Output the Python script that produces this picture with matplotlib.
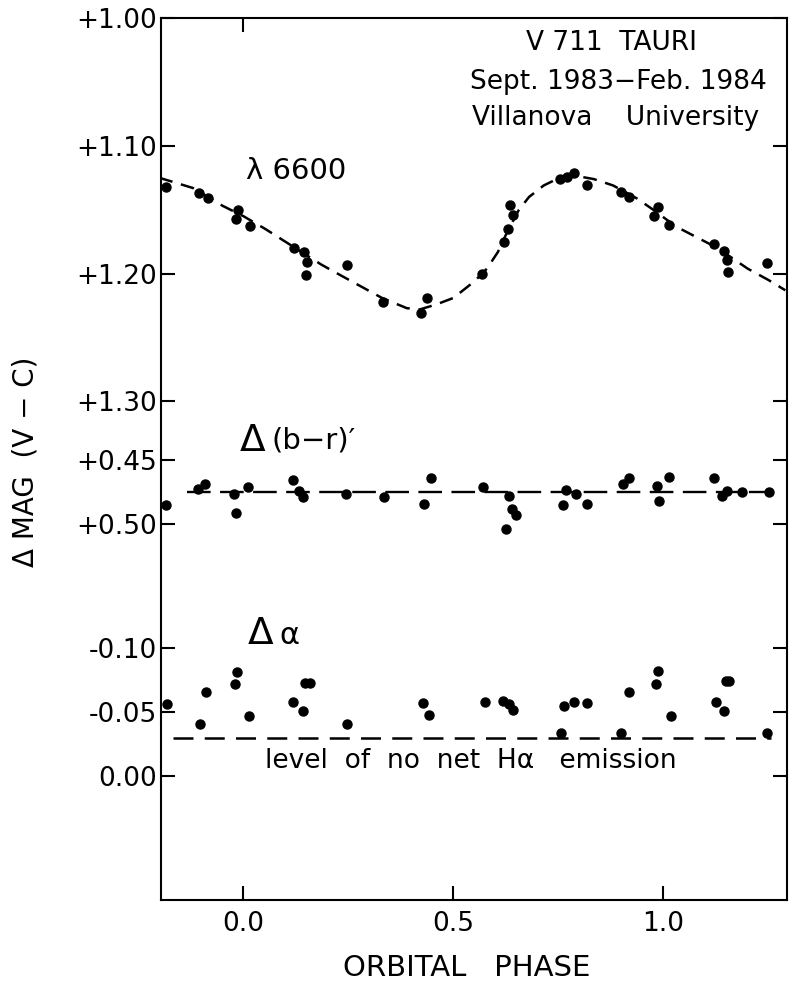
import matplotlib
matplotlib.use('Agg')
import matplotlib.pyplot as plt

W, H = 795, 984

# lambda 6600 differential magnitudes
lam_phase = [-0.183, -0.105, -0.084, -0.013, -0.018, 0.015, 0.120, 0.144, 0.151, 0.150,
             0.246, 0.332, 0.437, 0.424, 0.569, 0.621, 0.631, 0.642, 0.635, 0.753,
             0.770, 0.787, 0.817, 0.898, 0.917, 0.988, 0.977, 1.013, 1.121, 1.145,
             1.151, 1.153, 1.246]
lam_mag = [1.132, 1.137, 1.141, 1.150, 1.157, 1.163, 1.180, 1.183, 1.191, 1.201,
           1.193, 1.222, 1.219, 1.231, 1.200, 1.175, 1.165, 1.154, 1.146, 1.126,
           1.124, 1.121, 1.131, 1.136, 1.140, 1.148, 1.155, 1.162, 1.177, 1.182,
           1.189, 1.199, 1.192]

# dashed fit drawn through the lambda 6600 points
fit_phase = [-0.200, -0.120, -0.049, 0.000, 0.052, 0.100, 0.186, 0.230, 0.280, 0.330,
             0.389, 0.420, 0.460, 0.500, 0.550, 0.580, 0.606, 0.630, 0.656, 0.680,
             0.715, 0.740, 0.771, 0.800, 0.834, 0.880, 0.936, 0.980, 1.029, 1.070,
             1.123, 1.160, 1.200, 1.250, 1.290]
fit_mag = [1.125, 1.133, 1.147, 1.155, 1.165, 1.175, 1.193, 1.201, 1.210, 1.219,
           1.227, 1.228, 1.224, 1.219, 1.206, 1.196, 1.183, 1.166, 1.150, 1.140,
           1.131, 1.127, 1.124, 1.124, 1.126, 1.131, 1.141, 1.151, 1.163, 1.170,
           1.179, 1.187, 1.196, 1.205, 1.213]

# delta (b-r)'
br_phase = [-0.184, -0.108, -0.091, -0.022, -0.018, 0.012, 0.119, 0.133, 0.142, 0.244,
            0.335, 0.430, 0.446, 0.571, 0.633, 0.640, 0.649, 0.624, 0.769, 0.761,
            0.792, 0.818, 0.903, 0.918, 0.985, 0.989, 1.014, 1.121, 1.140, 1.152,
            1.188, 1.250]
br_mag = [0.4853, 0.4726, 0.4688, 0.4762, 0.4912, 0.4711, 0.4655, 0.4743, 0.4791, 0.4766,
          0.4788, 0.4842, 0.4641, 0.4712, 0.4779, 0.4881, 0.4929, 0.5037, 0.4734, 0.4852,
          0.4767, 0.4839, 0.4689, 0.4635, 0.4703, 0.4820, 0.4634, 0.4642, 0.4777, 0.4738,
          0.4748, 0.4745]
br_mean_phase = [-0.134, 1.245]
br_mean = [0.475, 0.475]

# delta alpha (H-alpha index)
ha_phase = [-0.182, -0.102, -0.088, -0.015, -0.021, 0.013, 0.119, 0.142, 0.146, 0.158,
            0.246, 0.428, 0.442, 0.574, 0.619, 0.633, 0.642, 0.755, 0.764, 0.788,
            0.818, 0.898, 0.917, 0.982, 0.987, 1.018, 1.124, 1.145, 1.148, 1.157,
            1.246]
ha_mag = [-0.056, -0.041, -0.066, -0.081, -0.072, -0.047, -0.058, -0.051, -0.073, -0.073,
          -0.041, -0.057, -0.048, -0.058, -0.059, -0.056, -0.052, -0.034, -0.055, -0.058,
          -0.057, -0.034, -0.066, -0.072, -0.082, -0.047, -0.058, -0.051, -0.074, -0.074,
          -0.034]
ha_level_phase = [-0.167, 1.255]
ha_level = [-0.030, -0.030]

# the three panels share one inverted axis, shifted by these amounts
OFF_LAM = 0.0
OFF_BR = 0.896
OFF_HA = 1.593

lam_ticks = [1.00, 1.10, 1.20, 1.30]
br_ticks = [0.45, 0.50]
ha_ticks = [-0.10, -0.05, 0.00]
ytick_labels = ['+1.00', '+1.10', '+1.20', '+1.30', '+0.45', '+0.50', '-0.10', '-0.05', '0.00']
x_ticks = [0.0, 0.5, 1.0]
x_labels = ['0.0', '0.5', '1.0']

plt.rcParams['font.family'] = ['DejaVu Sans']

fig = plt.figure(figsize=(W / 100, H / 100), dpi=100)
ax = fig.add_axes([161 / W, 1 - 900 / H, (787 - 161) / W, (900 - 18) / H])


def shift(vals, off):
    return [v + off for v in vals]


dot = dict(ls='none', marker='o', ms=6.5, color='black', zorder=3)
ax.plot(lam_phase, shift(lam_mag, OFF_LAM), **dot)
ax.plot(fit_phase, shift(fit_mag, OFF_LAM), color='black', lw=1.8, dashes=(5.5, 3.5))

ax.plot(br_phase, shift(br_mag, OFF_BR), **dot)
ax.plot(br_mean_phase, shift(br_mean, OFF_BR), color='black', lw=1.7, dashes=(10, 4))

ax.plot(ha_phase, shift(ha_mag, OFF_HA), **dot)
ax.plot(ha_level_phase, shift(ha_level, OFF_HA), color='black', lw=1.8, dashes=(8, 4.5))

ax.set_xlim(-0.196, 1.294)
ax.set_ylim(1.690, 1.0)

yt = shift(lam_ticks, OFF_LAM) + shift(br_ticks, OFF_BR) + shift(ha_ticks, OFF_HA)
ax.set_yticks(yt)
ax.set_yticklabels(ytick_labels)
ax.set_xticks(x_ticks)
ax.set_xticklabels(x_labels)
ax.tick_params(axis='both', direction='in', length=10, width=1.5, labelsize=19, pad=5)
ax.tick_params(axis='y', right=True, pad=3)
ax.tick_params(axis='x', pad=8)

top = ax.secondary_xaxis('top')
top.set_xticks([0.0])
top.set_xticklabels([])
top.tick_params(direction='in', length=10, width=1.5)
top.spines['top'].set_visible(False)

for s in ax.spines.values():
    s.set_linewidth(1.5)


def ftext(x, y, s, **kw):
    kw.setdefault('ha', 'center')
    kw.setdefault('va', 'center')
    kw.setdefault('fontsize', 19)
    fig.text(x / W, 1 - y / H, s, **kw)


ftext(612, 43, 'V 711  TAURI')
ftext(618, 82, 'Sept. 1983\u2212Feb. 1984')
ftext(616, 118, 'Villanova    University')
ftext(296, 171, '\u03bb 6600', fontsize=21)

ftext(253, 441, '\u0394', fontsize=27)
ftext(272, 440, '(b\u2212r)\u2032', ha='left', fontsize=21)
ftext(261, 634, '\u0394', fontsize=27)
ftext(279, 636, '\u03b1', ha='left', fontsize=22)

ftext(471, 761, 'level  of  no  net  H\u03b1   emission', fontsize=19)

ftext(26, 462, '\u0394 MAG  (V \u2212 C)', rotation=90, fontsize=20)
ftext(467, 968, 'ORBITAL   PHASE', fontsize=21)

fig.savefig('out.png', dpi=100)
